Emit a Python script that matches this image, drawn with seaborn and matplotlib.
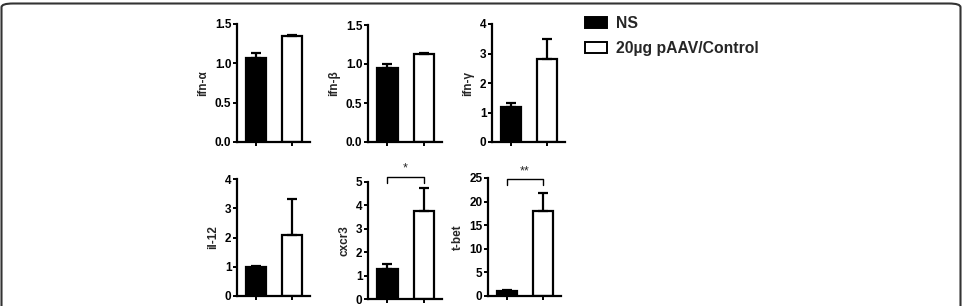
import matplotlib
matplotlib.use("Agg")
import matplotlib.pyplot as plt
import seaborn as sns
import pandas as pd
from matplotlib.patches import FancyBboxPatch, Patch

# data (mean and upper error)
groups = ["NS", "20µg pAAV/Control"]
genes = ["ifn-α", "ifn-β", "ifn-γ", "il-12", "cxcr3", "t-bet"]
ns_mean = [1.07, 0.95, 1.18, 1.00, 1.28, 1.10]
ns_err = [0.06, 0.05, 0.15, 0.01, 0.22, 0.15]
ctl_mean = [1.35, 1.13, 2.82, 2.10, 3.78, 18.0]
ctl_err = [0.01, 0.01, 0.68, 1.20, 0.95, 3.9]
ymax = [1.5, 1.5, 4, 4, 5, 25]
yticks = [[0.0, 0.5, 1.0, 1.5], [0.0, 0.5, 1.0, 1.5], [0, 1, 2, 3, 4],
          [0, 1, 2, 3, 4], [0, 1, 2, 3, 4, 5], [0, 5, 10, 15, 20, 25]]
ytick_labels = [["0.0", "0.5", "1.0", "1.5"], ["0.0", "0.5", "1.0", "1.5"],
                ["0", "1", "2", "3", "4"], ["0", "1", "2", "3", "4"],
                ["0", "1", "2", "3", "4", "5"], ["0", "5", "10", "15", "20", "25"]]
stars = ["", "", "", "", "*", "**"]
# bracket top / bracket foot heights (data units) for the significance marks
bracket = [None, None, None, None, (5.22, 4.95), (24.7, 23.6)]

sns.set_style("white")
plt.rcParams["font.family"] = ["Liberation Sans", "DejaVu Sans"]
plt.rcParams["font.weight"] = "bold"

fig = plt.figure(figsize=(9.63, 3.06), dpi=100)
W, H = 963, 306

# axes boxes in pixels: left, top, right, bottom
boxes = [(237, 24, 310, 142), (368, 25, 442, 142), (492, 24, 565, 142),
         (237, 179, 310, 296), (368, 182, 442, 299), (488, 178, 561, 296)]

for i, g in enumerate(genes):
    l, t, r, b = boxes[i]
    ax = fig.add_axes([l / W, 1 - b / H, (r - l) / W, (b - t) / H])
    df = pd.DataFrame({"group": groups, "value": [ns_mean[i], ctl_mean[i]]})
    sns.barplot(data=df, x="group", y="value", hue="group",
                palette=["black", "white"], edgecolor="black", linewidth=1.6,
                width=0.56, ax=ax, legend=False)
    ax.errorbar([0, 1], [ns_mean[i], ctl_mean[i]],
                yerr=[[0, 0], [ns_err[i], ctl_err[i]]],
                fmt="none", ecolor="black", elinewidth=1.6, capsize=3.5, capthick=1.6)
    ax.set_xlim(-0.53, 1.5)
    ax.set_ylim(0, ymax[i])
    ax.set_yticks(yticks[i])
    ax.set_yticklabels(ytick_labels[i], fontsize=8.5, fontweight="bold")
    ax.set_xticks([0, 1])
    ax.set_xticklabels(["", ""])
    ax.set_xlabel("")
    ax.set_ylabel(g, fontsize=8.5, fontweight="bold", labelpad=4)
    for s in ["top", "right"]:
        ax.spines[s].set_visible(False)
    for s in ["left", "bottom"]:
        ax.spines[s].set_linewidth(1.6)
        ax.spines[s].set_color("black")
    ax.tick_params(axis="both", direction="out", length=3, width=1.4, pad=1,
                   left=True, bottom=True, colors="black")
    if stars[i]:
        top, foot = bracket[i]
        ax.plot([0, 0, 1, 1], [foot, top, top, foot], color="black",
                lw=1.0, clip_on=False)
        ax.text(0.5, top + ymax[i] * 0.02, stars[i], ha="center", va="bottom",
                fontsize=9, fontweight="normal", clip_on=False)

handles = [Patch(facecolor="black", edgecolor="black", linewidth=1.4, label=groups[0]),
           Patch(facecolor="white", edgecolor="black", linewidth=1.4, label=groups[1])]
fig.legend(handles=handles, loc="upper left", bbox_to_anchor=(585 / W, 1 - 16 / H),
           frameon=False, prop={"weight": "bold", "size": 11.3},
           borderpad=0, borderaxespad=0,
           handlelength=1.4, handleheight=0.75, handletextpad=0.6, labelspacing=0.65)

# rounded frame of the panel
frame = FancyBboxPatch((1.5 / W, -0.2), (W - 4) / W, 1.2 - 3.5 / H,
                       boxstyle="round,pad=0,rounding_size=0.012",
                       transform=fig.transFigure, fill=False,
                       edgecolor="#333333", linewidth=1.5, clip_on=False)
fig.patches.append(frame)

fig.savefig("out.png", dpi=100)
